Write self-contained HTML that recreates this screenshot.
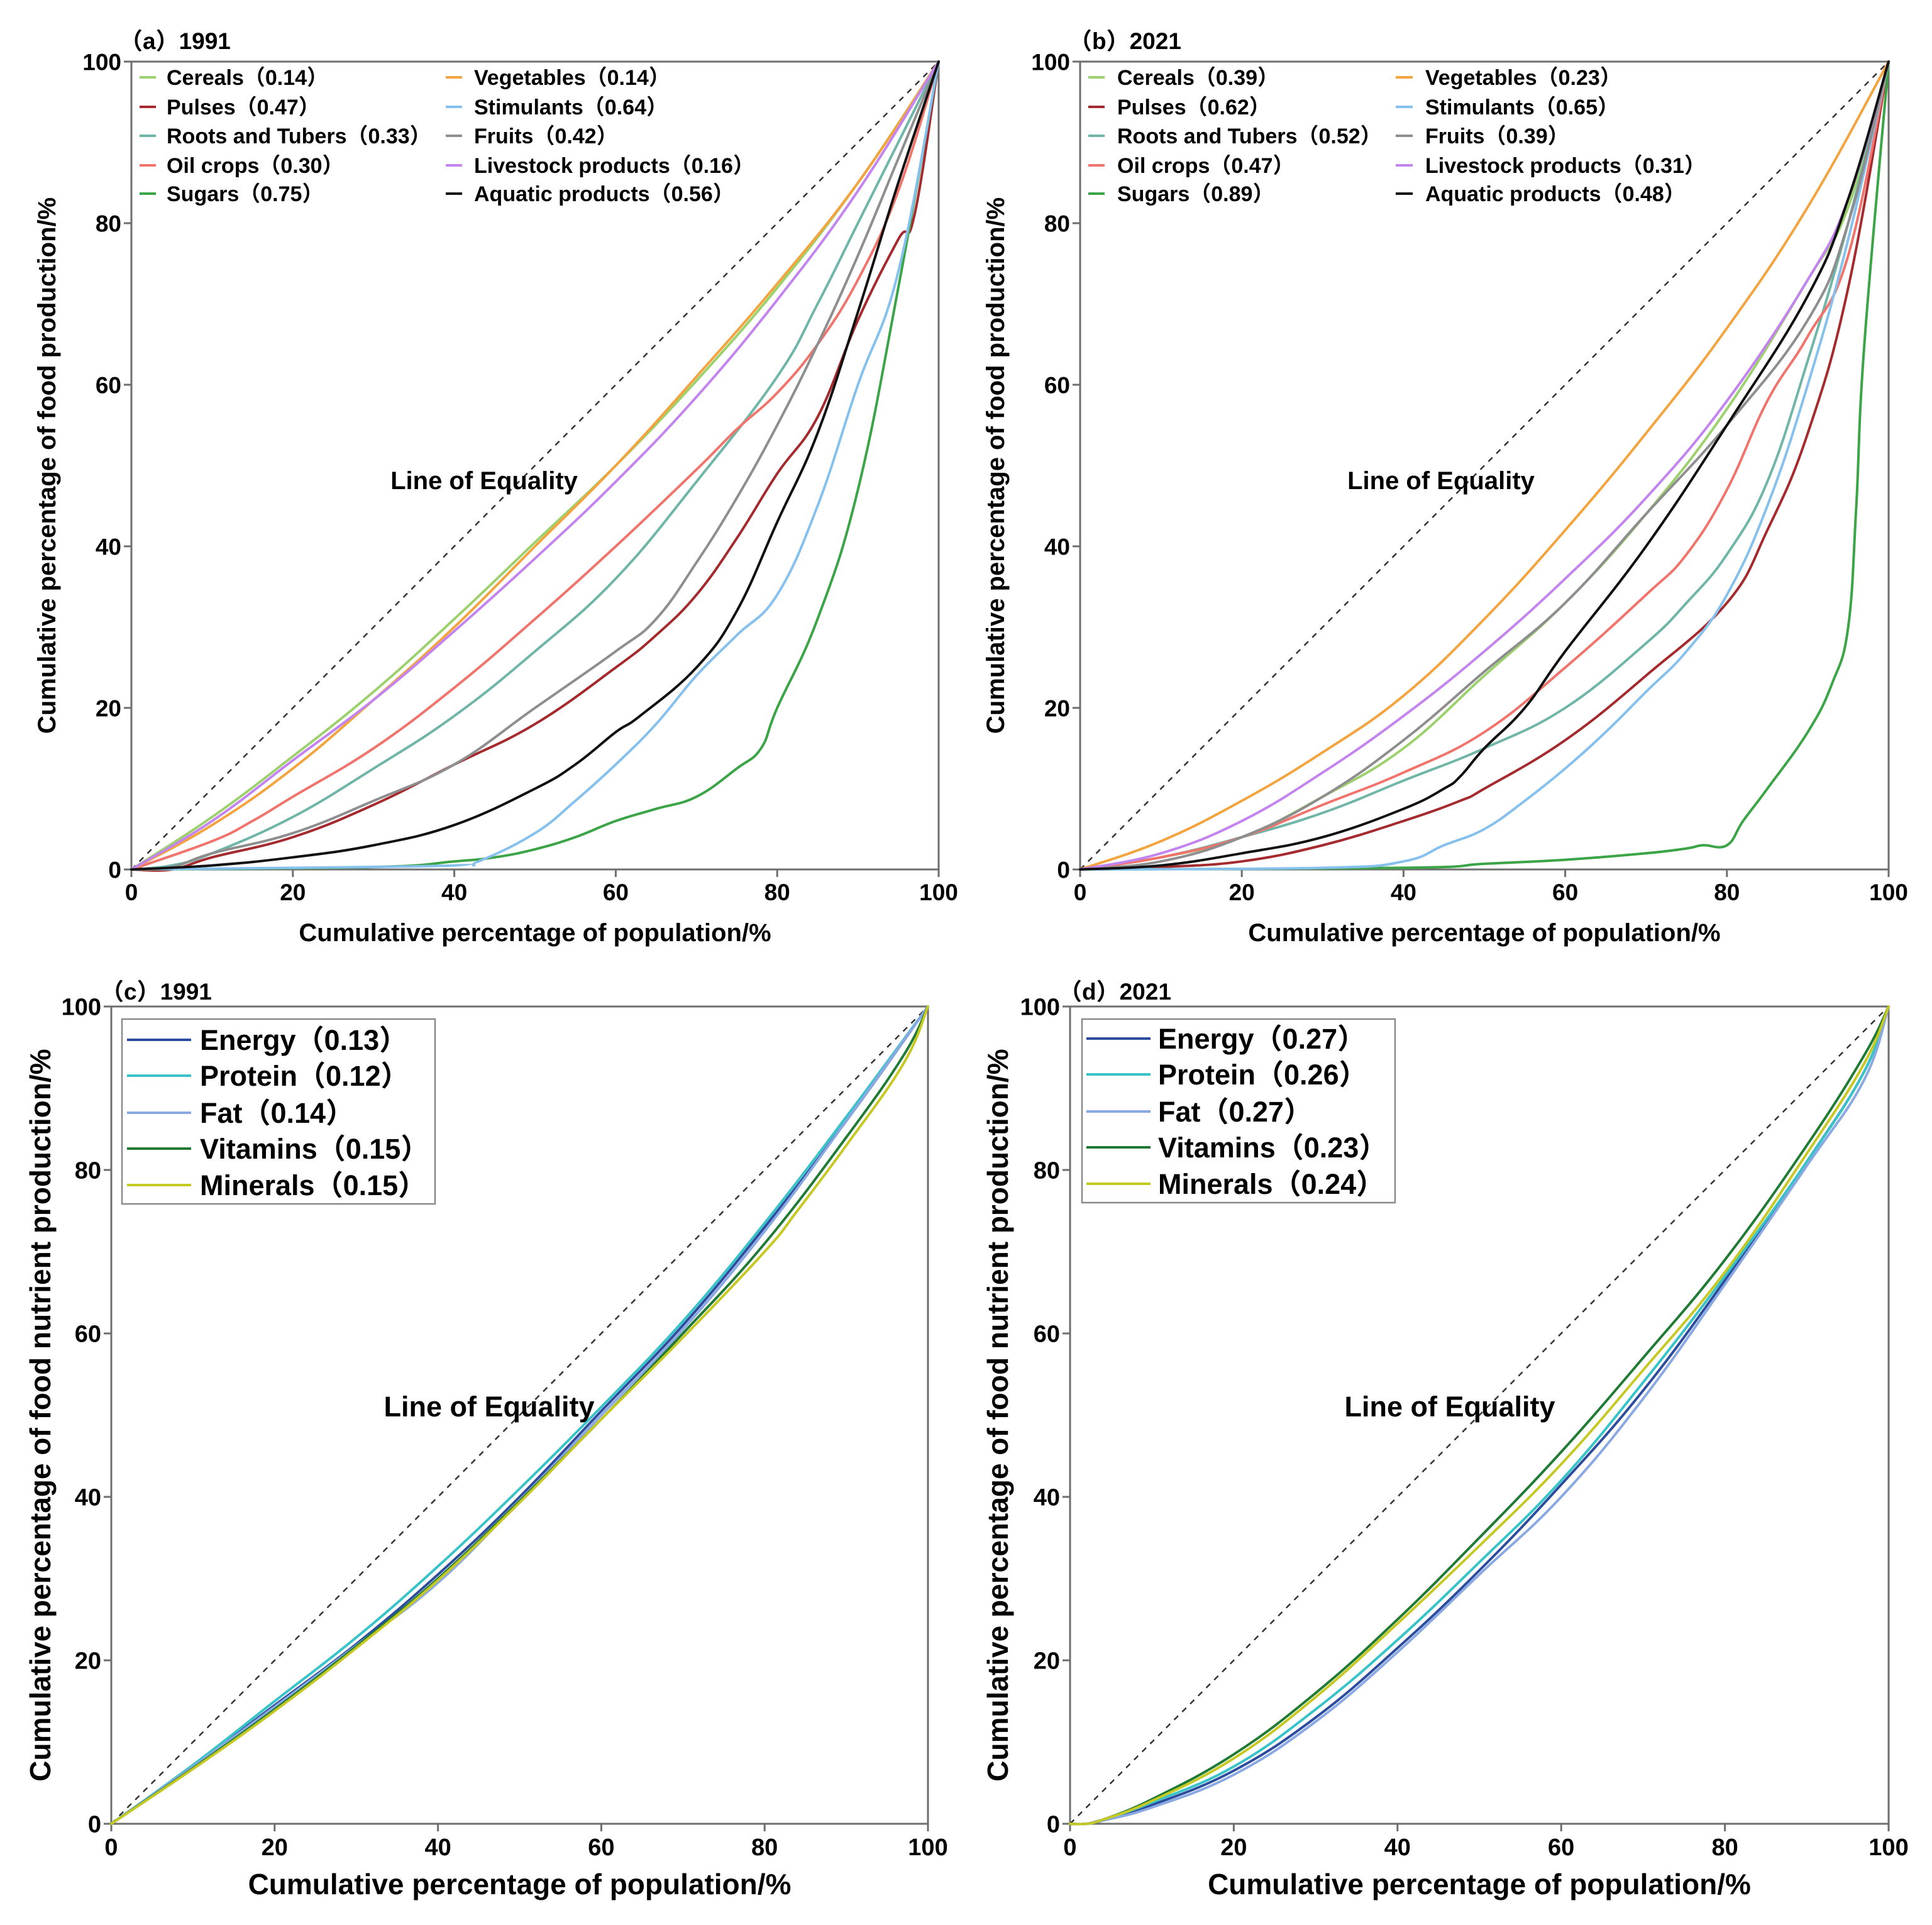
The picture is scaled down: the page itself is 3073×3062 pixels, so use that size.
<!DOCTYPE html>
<html><head><meta charset="utf-8">
<style>
html,body{margin:0;padding:0;background:#fff;}
svg{display:block;font-family:"Liberation Sans","Noto Sans CJK SC",sans-serif;font-weight:bold;}
</style></head>
<body>
<svg id="chart" xmlns="http://www.w3.org/2000/svg" width="3073" height="3062" viewBox="0 0 3073 3062"></svg>
<script>
// ---- Data arrays (x = cumulative % population, y = cumulative % production) ----
const foodNames = ["Cereals","Pulses","Roots and Tubers","Oil crops","Sugars","Vegetables","Stimulants","Fruits","Livestock products","Aquatic products"];
const foodColors = ["#9dd16e","#a52a2e","#6fb5a8","#f0746c","#3aa447","#f3a43f","#86c1ee","#8e8e8e","#c384ef","#111111"];
const giniA = ["0.14","0.47","0.33","0.30","0.75","0.14","0.64","0.42","0.16","0.56"];
const giniB = ["0.39","0.62","0.52","0.47","0.89","0.23","0.65","0.39","0.31","0.48"];

const aCerealsX=[0,10,20,30,40,50,60,70,80,90,100], aCerealsY=[0,6.5,14,22,31,40.5,50,60.5,72,85,100];
const aPulsesX=[0,5,10,20,30,40,50,60,65,70,75,80,85,90,95,97,100], aPulsesY=[0,0,1.5,4,8,13,18,25,29,34,41,49,56,68,78,81,100];
const aRootsX=[0,5,10,20,30,40,50,60,70,80,85,90,95,100], aRootsY=[0,0.5,2,6.5,12.5,19,27,36,48,61,70,80,90,100];
const aOilX=[0,10,15,20,30,40,50,60,70,75,80,85,90,95,100], aOilY=[0,3.5,6,9,15,22.5,31,40,49.5,54.5,59,65,73,84,100];
const aSugarX=[0,30,40,45,50,55,60,65,70,75,78,80,85,90,95,100], aSugarY=[0,0.3,1,1.5,2.5,4,6,7.5,9,12.5,15,20,31,47,72,100];
const aVegX=[0,10,20,30,40,50,60,70,80,90,100], aVegY=[0,5.5,12.5,21,30,40,50,61,72.5,85,100];
const aStimX=[0,20,40,43,50,55,60,65,70,75,80,85,90,95,100], aStimY=[0,0.2,0.5,1,4.5,8.5,13,18,24,29,34,45,60,74,100];
const aFruitX=[0,5,10,20,30,40,50,60,65,70,75,80,85,90,95,100], aFruitY=[0,0.3,2,4.5,8.5,13,20,27,31,38,46,55,65,76,88,100];
const aLiveX=[0,10,20,30,40,50,60,70,80,90,100], aLiveY=[0,6,13.5,21,29.5,38.5,48,58.5,70.5,84,100];
const aAquaX=[0,10,20,30,40,50,55,60,63,70,75,80,85,90,95,100], aAquaY=[0,0.5,1.5,3,5.5,10,13,17,19,25,32,43,54,69,85,100];

const bCerealsX=[0,10,20,30,40,50,60,70,80,90,95,100], bCerealsY=[0,1.5,4,9,15,24,33,44,57,73,82,100];
const bPulsesX=[0,10,20,30,40,47,50,60,70,80,85,90,95,100], bPulsesY=[0,0.3,1,3,6,8.5,10,16,24,33,42,54,72,100];
const bRootsX=[0,10,20,30,40,50,60,70,75,80,85,90,95,100], bRootsY=[0,1.5,4,7,11,15,20,28,33,39,48,63,80,100];
const bOilX=[0,10,20,30,40,50,60,70,75,80,85,90,95,100], bOilY=[0,1.5,4,8,12,17,25,34,39,47,58,66,76,100];
const bSugarX=[0,40,50,60,70,75,77,80,82,85,90,93,95,96,97,100], bSugarY=[0,0.2,0.7,1.2,2,2.6,3,3,6,10,17,23,30,45,65,100];
const bVegX=[0,10,20,30,40,50,60,70,80,90,100], bVegY=[0,3.5,8.5,14.5,21.5,31,42,54,67,82,100];
const bStimX=[0,30,40,45,50,55,60,65,70,75,80,85,90,95,100], bStimY=[0,0.2,1,3,5,8.5,12.5,17,22,27,34,45,60,78,100];
const bFruitX=[0,10,20,30,40,50,60,70,80,90,95,100], bFruitY=[0,1,4,9,16,24.5,33,44,55,68,80,100];
const bLiveX=[0,10,20,30,40,50,60,70,80,90,95,100], bLiveY=[0,2,6,12,19,27,36,46,58,73,83,100];
const bAquaX=[0,10,20,30,40,45,47,50,55,60,70,80,90,95,100], bAquaY=[0,0.5,2,4,7.5,10,11.5,15,20,27,40,55,71,83,100];

const nutNames = ["Energy","Protein","Fat","Vitamins","Minerals"];
const nutColors = ["#2d4c9e","#37c3c8","#8aa9e2","#1f7b33","#c6c824"];
const giniC = ["0.13","0.12","0.14","0.15","0.15"];
const giniD = ["0.27","0.26","0.27","0.23","0.24"];

const cEnergyX=[0,10,20,30,40,50,60,70,80,90,100], cEnergyY=[0,7,14.5,22,30.5,40,50.5,61,73,86,100];
const cProteinX=[0,10,20,30,40,50,60,70,80,90,100], cProteinY=[0,7.2,15,22.8,31.5,41,51,61.5,73.5,86.5,100];
const cFatX=[0,10,20,30,40,50,60,70,80,90,100], cFatY=[0,7,14.3,21.8,29.5,39.5,50,60.5,72.5,86,100];
const cVitX=[0,10,20,30,40,50,60,70,80,90,97,100], cVitY=[0,6.8,14,21.7,30,39.5,49.5,60,71,84,94,100];
const cMinX=[0,10,20,30,40,50,60,70,80,84,90,97,100], cMinY=[0,6.7,13.8,21.5,29.8,39.3,49.5,59.5,70,75,83,93,100];

const dEnergyX=[0,2,4,10,20,30,40,50,60,70,80,90,97,100], dEnergyY=[0,0,0.5,2.3,6.5,13,21.5,31,41.5,53,66.5,81,92,100];
const dProteinX=[0,2,4,10,20,30,40,50,60,70,80,90,97,100], dProteinY=[0,0,0.5,2.6,7,14,22.5,32,42,54,67,81,92,100];
const dFatX=[0,2,4,10,20,30,40,50,60,70,80,90,97,100], dFatY=[0,0,0.4,2,6,12.5,21,30.5,40,52,66,80.5,91,100];
const dVitX=[0,2,4,10,20,30,40,50,60,70,80,90,97,100], dVitY=[0,0,0.5,3,8.5,16,25,35,45.5,57,69,83,94,100];
const dMinX=[0,2,4,10,20,30,40,50,60,70,80,90,97,100], dMinY=[0,0,0.5,2.8,8,15.5,24.5,34,44,55.5,67.5,82,93,100];

const tickValues=[0,20,40,60,80,100];

const NS="http://www.w3.org/2000/svg";
const svg=document.getElementById('chart');
function mk(tag,attrs,parent){const e=document.createElementNS(NS,tag);for(const k in attrs)e.setAttribute(k,attrs[k]);(parent||svg).appendChild(e);return e;}

function smoothPath(P){
  let d='M'+P[0][0].toFixed(1)+','+P[0][1].toFixed(1);
  for(let i=0;i<P.length-1;i++){
    const p0=P[i>0?i-1:i],p1=P[i],p2=P[i+1],p3=P[i+2<P.length?i+2:i+1];
    const t=0.2;
    const c1=[p1[0]+(p2[0]-p0[0])*t,p1[1]+(p2[1]-p0[1])*t];
    const c2=[p2[0]-(p3[0]-p1[0])*t,p2[1]-(p3[1]-p1[1])*t];
    d+=' C'+c1[0].toFixed(1)+','+c1[1].toFixed(1)+' '+c2[0].toFixed(1)+','+c2[1].toFixed(1)+' '+p2[0].toFixed(1)+','+p2[1].toFixed(1);
  }
  return d;
}

function panel(p){
  const g=mk('g',{});
  
  
  const sx=v=>p.x0+(p.x1-p.x0)*v/100, sy=v=>p.y0-(p.y0-p.y1)*v/100;
  const fr=mk('rect',{x:p.x0,y:p.y1,width:p.x1-p.x0,height:p.y0-p.y1,fill:'none',stroke:'#6e6e6e','stroke-width':3},g);
  
  
  tickValues.forEach(t=>{
    mk('line',{x1:sx(t),x2:sx(t),y1:p.y0,y2:p.y0+12,stroke:'#6e6e6e','stroke-width':3},g);
    mk('line',{x1:p.x0-12,x2:p.x0,y1:sy(t),y2:sy(t),stroke:'#6e6e6e','stroke-width':3},g);
    const xl=mk('text',{x:sx(t),y:p.y0+p.tf+12,'text-anchor':'middle','font-size':p.tf},g);
    xl.textContent=t;
    
    
    const yl=mk('text',{x:p.x0-16,y:sy(t)+p.tf*0.36,'text-anchor':'end','font-size':p.tf},g);
    yl.textContent=t;
    
    
  });
  const eq=mk('line',{x1:sx(0),y1:sy(0),x2:sx(100),y2:sy(100),stroke:'#333','stroke-width':2.5,'stroke-dasharray':'9,9'},g);
  
  
  p.series.forEach((s,i)=>{
    const P=s.x.map((v,j)=>[sx(v),sy(s.y[j])]);
    const pl=mk('path',{d:smoothPath(P),fill:'none',stroke:p.colors[i],'stroke-width':p.lw,'stroke-linejoin':'round','stroke-linecap':'round'},g);
    
    
  });
  const el=mk('text',{x:p.eqx,y:p.eqy,'text-anchor':'middle','font-size':p.eqf},g);
  el.textContent='Line of Equality';
  
  
  const ti=mk('text',{x:p.tx,y:p.ty,'font-size':37},g);
  ti.textContent=p.title;
  
  
  const xt=mk('text',{x:(p.x0+p.x1)/2,y:p.xty,'text-anchor':'middle','font-size':p.atf},g);
  xt.textContent='Cumulative percentage of population/%';
  
  
  const yt=mk('text',{x:0,y:0,'text-anchor':'middle','font-size':p.atf,transform:'translate('+p.ytx+','+((p.y0+p.y1)/2)+') rotate(-90)'},g);
  yt.textContent=p.ytitle;
  
  
  if(p.legendBox){
    const b=p.legendBox;
    const lb=mk('rect',{x:b[0],y:b[1],width:b[2],height:b[3],fill:'#fff',stroke:'#8a8a8a','stroke-width':2.5},g);
    
    
  }
  p.names.forEach((n,i)=>{
    const L=p.legendPos(i);
    const sw=mk('line',{x1:L.sx1,x2:L.sx2,y1:L.y,y2:L.y,stroke:p.colors[i],'stroke-width':p.lsw},g);
    
    
    const lt=mk('text',{x:L.tx,y:L.y+p.lf*0.36,'font-size':p.lf},g);
    lt.textContent=n+'（'+p.gini[i]+'）';
    
    
  });
}

const rowsAB=[123,170,216,263,308];
panel({id:'a',x0:209,x1:1493,y0:1383,y1:98,tf:37,lw:4,
  series:[{x:aCerealsX,y:aCerealsY},{x:aPulsesX,y:aPulsesY},{x:aRootsX,y:aRootsY},{x:aOilX,y:aOilY},{x:aSugarX,y:aSugarY},{x:aVegX,y:aVegY},{x:aStimX,y:aStimY},{x:aFruitX,y:aFruitY},{x:aLiveX,y:aLiveY},{x:aAquaX,y:aAquaY}],
  colors:foodColors,names:foodNames,gini:giniA,
  eqx:770,eqy:778,eqf:40,title:'（a）1991',tx:190,ty:78,xty:1497,atf:40,ytx:88,
  ytitle:'Cumulative percentage of food production/%',lf:34,lsw:4,
  legendPos:i=>{const c=i<5?0:1,r=i%5;return {sx1:c?709:222,sx2:c?735:248,tx:c?754:265,y:rowsAB[r]};}});
panel({id:'b',x0:1718,x1:3004,y0:1383,y1:98,tf:37,lw:4,
  series:[{x:bCerealsX,y:bCerealsY},{x:bPulsesX,y:bPulsesY},{x:bRootsX,y:bRootsY},{x:bOilX,y:bOilY},{x:bSugarX,y:bSugarY},{x:bVegX,y:bVegY},{x:bStimX,y:bStimY},{x:bFruitX,y:bFruitY},{x:bLiveX,y:bLiveY},{x:bAquaX,y:bAquaY}],
  colors:foodColors,names:foodNames,gini:giniB,
  eqx:2292,eqy:778,eqf:40,title:'（b）2021',tx:1700,ty:78,xty:1497,atf:40,ytx:1597,
  ytitle:'Cumulative percentage of food production/%',lf:34,lsw:4,
  legendPos:i=>{const c=i<5?0:1,r=i%5;return {sx1:c?2220:1731,sx2:c?2247:1757,tx:c?2267:1777,y:rowsAB[r]};}});
const rowsCD=[1654,1711,1770,1827,1885];
panel({id:'c',x0:177,x1:1476,y0:2901,y1:1601,tf:38,lw:4,
  series:[{x:cEnergyX,y:cEnergyY},{x:cProteinX,y:cProteinY},{x:cFatX,y:cFatY},{x:cVitX,y:cVitY},{x:cMinX,y:cMinY}],
  colors:nutColors,names:nutNames,gini:giniC,
  eqx:778,eqy:2253,eqf:45,title:'（c）1991',tx:160,ty:1590,xty:3013,atf:46,ytx:80,
  ytitle:'Cumulative percentage of food nutrient production/%',lf:45,lsw:4,
  legendBox:[194,1621,498,294],
  legendPos:i=>({sx1:202,sx2:304,tx:318,y:rowsCD[i]})});
panel({id:'d',x0:1702,x1:3004,y0:2901,y1:1601,tf:38,lw:4,
  series:[{x:dEnergyX,y:dEnergyY},{x:dProteinX,y:dProteinY},{x:dFatX,y:dFatY},{x:dVitX,y:dVitY},{x:dMinX,y:dMinY}],
  colors:nutColors,names:nutNames,gini:giniD,
  eqx:2306,eqy:2253,eqf:45,title:'（d）2021',tx:1684,ty:1590,xty:3013,atf:46,ytx:1603,
  ytitle:'Cumulative percentage of food nutrient production/%',lf:45,lsw:4,
  legendBox:[1721,1621,498,292],
  legendPos:i=>({sx1:1728,sx2:1830,tx:1842,y:rowsCD[i]-2})});
</script>
</body></html>
